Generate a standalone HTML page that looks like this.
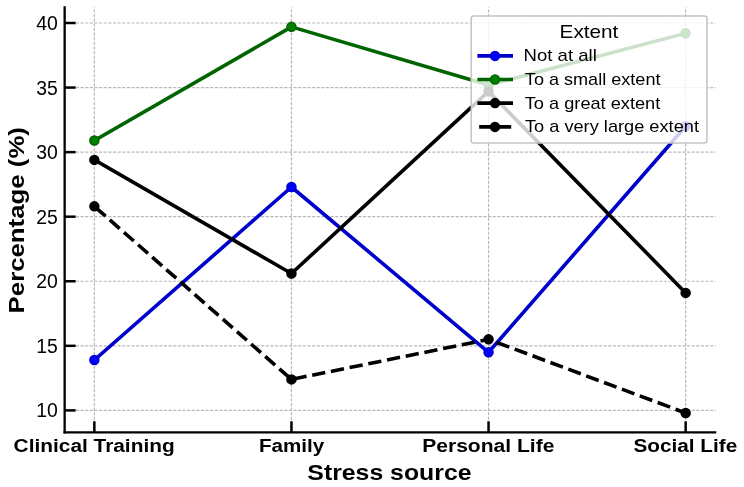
<!DOCTYPE html>
<html><head><meta charset="utf-8"><style>
html,body{margin:0;padding:0;background:#fff;width:744px;height:487px;overflow:hidden}
svg{display:block;will-change:transform}
</style></head><body>
<svg width="744" height="487" viewBox="0 0 744 487" font-family='"Liberation Sans", sans-serif'>
<rect x="0" y="0" width="744" height="487" fill="#fff"/>
<line x1="64.65" y1="410.39" x2="715.60" y2="410.39" stroke="#b8b8b8" stroke-width="1.2" stroke-dasharray="3.1 1.53" stroke-dashoffset="-2.0"/>
<line x1="64.65" y1="345.82" x2="715.60" y2="345.82" stroke="#b8b8b8" stroke-width="1.2" stroke-dasharray="3.1 1.53" stroke-dashoffset="-2.0"/>
<line x1="64.65" y1="281.26" x2="715.60" y2="281.26" stroke="#b8b8b8" stroke-width="1.2" stroke-dasharray="3.1 1.53" stroke-dashoffset="-2.0"/>
<line x1="64.65" y1="216.69" x2="715.60" y2="216.69" stroke="#b8b8b8" stroke-width="1.2" stroke-dasharray="3.1 1.53" stroke-dashoffset="-2.0"/>
<line x1="64.65" y1="152.13" x2="715.60" y2="152.13" stroke="#b8b8b8" stroke-width="1.2" stroke-dasharray="3.1 1.53" stroke-dashoffset="-2.0"/>
<line x1="64.65" y1="87.56" x2="715.60" y2="87.56" stroke="#b8b8b8" stroke-width="1.2" stroke-dasharray="3.1 1.53" stroke-dashoffset="-2.0"/>
<line x1="64.65" y1="23.00" x2="715.60" y2="23.00" stroke="#b8b8b8" stroke-width="1.2" stroke-dasharray="3.1 1.53" stroke-dashoffset="-2.0"/>
<line x1="94.35" y1="432.30" x2="94.35" y2="7.40" stroke="#b8b8b8" stroke-width="1.2" stroke-dasharray="3.1 1.53" stroke-dashoffset="1.55"/>
<line x1="291.45" y1="432.30" x2="291.45" y2="7.40" stroke="#b8b8b8" stroke-width="1.2" stroke-dasharray="3.1 1.53" stroke-dashoffset="1.55"/>
<line x1="488.55" y1="432.30" x2="488.55" y2="7.40" stroke="#b8b8b8" stroke-width="1.2" stroke-dasharray="3.1 1.53" stroke-dashoffset="1.55"/>
<line x1="685.65" y1="432.30" x2="685.65" y2="7.40" stroke="#b8b8b8" stroke-width="1.2" stroke-dasharray="3.1 1.53" stroke-dashoffset="1.55"/>
<polyline points="94.35,360.03 291.45,187.00 488.55,352.28 685.65,126.30" fill="none" stroke="#0000cd" stroke-width="3.6" stroke-linejoin="round" stroke-linecap="square"/>
<circle cx="94.35" cy="360.03" r="4.5" fill="#0000ff" stroke="#0000cd" stroke-width="1.5"/>
<circle cx="291.45" cy="187.00" r="4.5" fill="#0000ff" stroke="#0000cd" stroke-width="1.5"/>
<circle cx="488.55" cy="352.28" r="4.5" fill="#0000ff" stroke="#0000cd" stroke-width="1.5"/>
<circle cx="685.65" cy="126.30" r="4.5" fill="#0000ff" stroke="#0000cd" stroke-width="1.5"/>
<polyline points="94.35,140.51 291.45,26.87 488.55,84.98 685.65,33.33" fill="none" stroke="#006400" stroke-width="3.6" stroke-linejoin="round" stroke-linecap="square"/>
<circle cx="94.35" cy="140.51" r="4.5" fill="#008000" stroke="#006400" stroke-width="1.5"/>
<circle cx="291.45" cy="26.87" r="4.5" fill="#008000" stroke="#006400" stroke-width="1.5"/>
<circle cx="488.55" cy="84.98" r="4.5" fill="#008000" stroke="#006400" stroke-width="1.5"/>
<circle cx="685.65" cy="33.33" r="4.5" fill="#008000" stroke="#006400" stroke-width="1.5"/>
<polyline points="94.35,159.88 291.45,273.51 488.55,91.44 685.65,292.88" fill="none" stroke="#000000" stroke-width="3.6" stroke-linejoin="round" stroke-linecap="square"/>
<circle cx="94.35" cy="159.88" r="4.5" fill="#000000" stroke="#000000" stroke-width="1.5"/>
<circle cx="291.45" cy="273.51" r="4.5" fill="#000000" stroke="#000000" stroke-width="1.5"/>
<circle cx="488.55" cy="91.44" r="4.5" fill="#000000" stroke="#000000" stroke-width="1.5"/>
<circle cx="685.65" cy="292.88" r="4.5" fill="#000000" stroke="#000000" stroke-width="1.5"/>
<line x1="94.35" y1="206.36" x2="291.45" y2="379.40" stroke="#000000" stroke-width="3.6" stroke-dasharray="13.12 5.68" stroke-dashoffset="-1.80"/>
<line x1="291.45" y1="379.40" x2="488.55" y2="339.37" stroke="#000000" stroke-width="3.6" stroke-dasharray="13.32 5.76" stroke-dashoffset="265.03"/>
<line x1="488.55" y1="339.37" x2="685.65" y2="412.97" stroke="#000000" stroke-width="3.6" stroke-dasharray="13.32 5.76" stroke-dashoffset="468.20"/>
<circle cx="94.35" cy="206.36" r="4.5" fill="#000000" stroke="#000000" stroke-width="1.5"/>
<circle cx="291.45" cy="379.40" r="4.5" fill="#000000" stroke="#000000" stroke-width="1.5"/>
<circle cx="488.55" cy="339.37" r="4.5" fill="#000000" stroke="#000000" stroke-width="1.5"/>
<circle cx="685.65" cy="412.97" r="4.5" fill="#000000" stroke="#000000" stroke-width="1.5"/>
<line x1="64.65" y1="433.45" x2="64.65" y2="6.20" stroke="#000" stroke-width="2.3"/>
<line x1="63.50" y1="432.30" x2="716.3" y2="432.30" stroke="#000" stroke-width="2.3"/>
<line x1="64.65" y1="410.39" x2="75.65" y2="410.39" stroke="#000" stroke-width="2.5"/>
<line x1="64.65" y1="345.82" x2="75.65" y2="345.82" stroke="#000" stroke-width="2.5"/>
<line x1="64.65" y1="281.26" x2="75.65" y2="281.26" stroke="#000" stroke-width="2.5"/>
<line x1="64.65" y1="216.69" x2="75.65" y2="216.69" stroke="#000" stroke-width="2.5"/>
<line x1="64.65" y1="152.13" x2="75.65" y2="152.13" stroke="#000" stroke-width="2.5"/>
<line x1="64.65" y1="87.56" x2="75.65" y2="87.56" stroke="#000" stroke-width="2.5"/>
<line x1="64.65" y1="23.00" x2="75.65" y2="23.00" stroke="#000" stroke-width="2.5"/>
<line x1="94.35" y1="432.30" x2="94.35" y2="421.30" stroke="#000" stroke-width="2.5"/>
<line x1="291.45" y1="432.30" x2="291.45" y2="421.30" stroke="#000" stroke-width="2.5"/>
<line x1="488.55" y1="432.30" x2="488.55" y2="421.30" stroke="#000" stroke-width="2.5"/>
<line x1="685.65" y1="432.30" x2="685.65" y2="421.30" stroke="#000" stroke-width="2.5"/>
<text x="57.8" y="417.34" font-size="19.4" text-anchor="end" fill="#000">10</text>
<text x="57.8" y="352.77" font-size="19.4" text-anchor="end" fill="#000">15</text>
<text x="57.8" y="288.21" font-size="19.4" text-anchor="end" fill="#000">20</text>
<text x="57.8" y="223.64" font-size="19.4" text-anchor="end" fill="#000">25</text>
<text x="57.8" y="159.08" font-size="19.4" text-anchor="end" fill="#000">30</text>
<text x="57.8" y="94.51" font-size="19.4" text-anchor="end" fill="#000">35</text>
<text x="57.8" y="29.95" font-size="19.4" text-anchor="end" fill="#000">40</text>
<text x="13.62" y="452.2" font-size="18.3" font-weight="bold" textLength="161.05" lengthAdjust="spacingAndGlyphs" fill="#000">Clinical Training</text>
<text x="258.91" y="452.2" font-size="18.3" font-weight="bold" textLength="65.29" lengthAdjust="spacingAndGlyphs" fill="#000">Family</text>
<text x="422.20" y="452.2" font-size="18.3" font-weight="bold" textLength="132.27" lengthAdjust="spacingAndGlyphs" fill="#000">Personal Life</text>
<text x="633.46" y="452.2" font-size="18.3" font-weight="bold" textLength="103.72" lengthAdjust="spacingAndGlyphs" fill="#000">Social Life</text>
<text x="307.37" y="479.6" font-size="22.5" font-weight="bold" textLength="164.13" lengthAdjust="spacingAndGlyphs" fill="#000">Stress source</text>
<text transform="translate(24.1,313.43) rotate(-90)" x="0" y="0" font-size="22.5" font-weight="bold" textLength="186.40" lengthAdjust="spacingAndGlyphs" fill="#000">Percentage (%)</text>
<rect x="471.2" y="15.9" width="235.80" height="127.20" rx="2.5" ry="2.5" fill="#fff" fill-opacity="0.8" stroke="#c4c4c4" stroke-width="1.5"/>
<text x="559.56" y="37.5" font-size="18.4" textLength="58.81" lengthAdjust="spacingAndGlyphs" fill="#000">Extent</text>
<line x1="479.2" y1="55.9" x2="511.2" y2="55.9" stroke="#0000cd" stroke-width="3.6" stroke-linecap="square"/>
<circle cx="495.0" cy="55.9" r="4.5" fill="#0000ff" stroke="#0000cd" stroke-width="1.5"/>
<text x="523.58" y="61.4" font-size="16.4" textLength="73.19" lengthAdjust="spacingAndGlyphs" fill="#000">Not at all</text>
<line x1="479.2" y1="79.5" x2="511.2" y2="79.5" stroke="#006400" stroke-width="3.6" stroke-linecap="square"/>
<circle cx="495.0" cy="79.5" r="4.5" fill="#008000" stroke="#006400" stroke-width="1.5"/>
<text x="524.87" y="85.2" font-size="16.4" textLength="135.61" lengthAdjust="spacingAndGlyphs" fill="#000">To a small extent</text>
<line x1="479.2" y1="103.1" x2="511.2" y2="103.1" stroke="#000000" stroke-width="3.6" stroke-linecap="square"/>
<circle cx="495.0" cy="103.1" r="4.5" fill="#000000" stroke="#000000" stroke-width="1.5"/>
<text x="524.78" y="108.8" font-size="16.4" textLength="135.53" lengthAdjust="spacingAndGlyphs" fill="#000">To a great extent</text>
<line x1="479.2" y1="126.9" x2="511.2" y2="126.9" stroke="#000000" stroke-width="3.6" stroke-dasharray="13.32 5.76"/>
<circle cx="495.0" cy="126.9" r="4.5" fill="#000000" stroke="#000000" stroke-width="1.5"/>
<text x="524.94" y="132.4" font-size="16.4" textLength="174.00" lengthAdjust="spacingAndGlyphs" fill="#000">To a very large extent</text>
</svg>
</body></html>
